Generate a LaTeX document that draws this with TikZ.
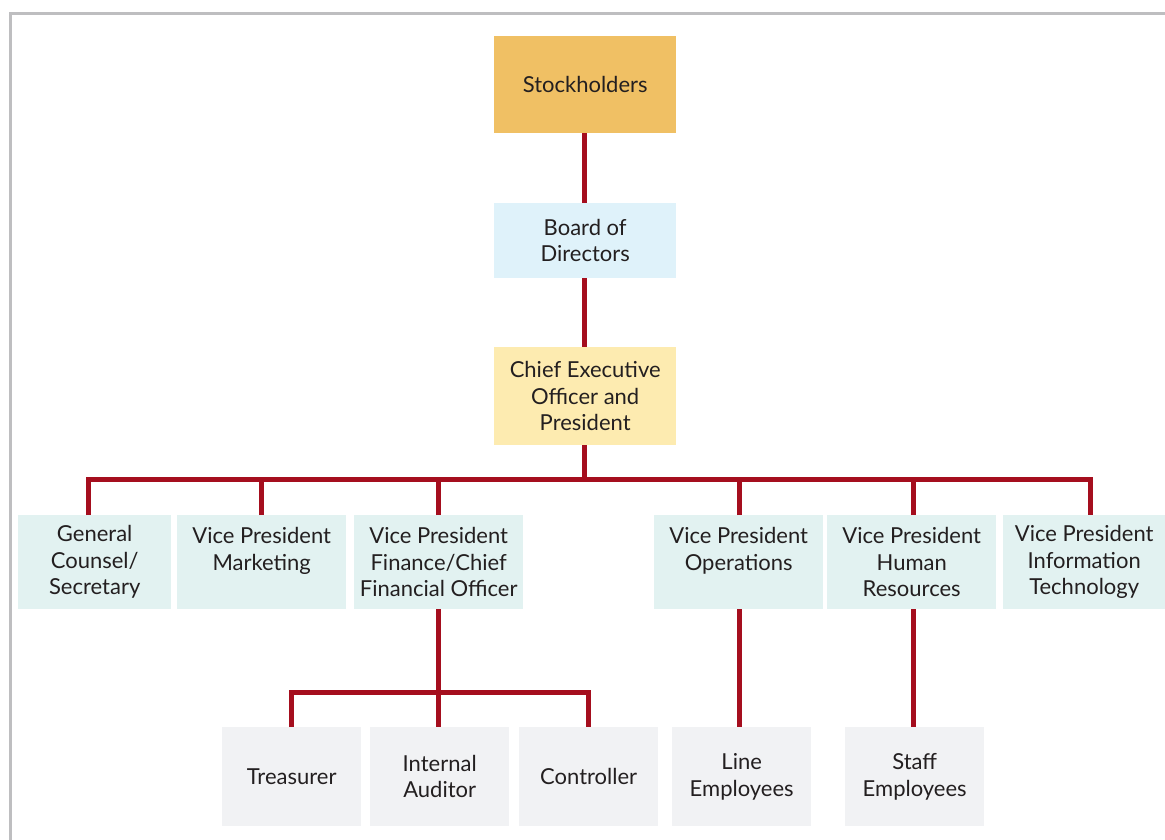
\documentclass[tikz,border=0pt]{standalone}
\usepackage{fontspec}
\setmainfont{Lato}
\usetikzlibrary{positioning}
\definecolor{cstock}{RGB}{240,192,100}
\definecolor{cboard}{RGB}{223,242,250}
\definecolor{cceo}{RGB}{253,235,176}
\definecolor{cvp}{RGB}{226,242,241}
\definecolor{cstaff}{RGB}{241,242,244}
\definecolor{clink}{RGB}{165,14,30}
\definecolor{cframe}{RGB}{190,190,192}
\definecolor{ctext}{RGB}{35,31,32}

\begin{document}
\begin{tikzpicture}[x=1pt,y=-1pt,line join=miter]
\tikzset{
  box/.style={anchor=north west,inner sep=0pt,align=center,text=ctext,
    font=\fontsize{22}{26.5}\selectfont},
  topbox/.style={box,fill=#1,minimum width=182pt,minimum height=97pt},
  vpbox/.style={box,fill=cvp,minimum height=94pt},
  lowbox/.style={box,fill=cstaff,minimum width=139pt,minimum height=99pt},
  link/.style={draw=clink,line width=5pt}
}
\useasboundingbox (0,0) rectangle (1165,840);
% ---------- frame ----------
\draw[cframe,line width=2.5pt] (10.5,840) -- (10.5,13.5) -- (1165,13.5);
% ---------- top of the chart ----------
\node[topbox=cstock] (stock) at (494,36) {Stockholders};
\node[topbox=cboard,minimum height=75pt] (board) at (494,203) {Board of\\Directors};
\node[topbox=cceo,minimum height=98pt] (ceo) at (494,347) {Chief Executive\\Officer and\\President};
% ---------- vice presidents ----------
\node[vpbox,minimum width=153pt] (counsel) at (18,515) {General\\Counsel/\\Secretary};
\node[vpbox,minimum width=169pt] (mkt) at (177,515) {Vice President\\Marketing\\\mbox{}};
\node[vpbox,minimum width=169pt] (fin) at (354,515) {Vice President\\Finance/Chief\\Financial Officer};
\node[vpbox,minimum width=169pt] (ops) at (654,515) {Vice President\\Operations\\\mbox{}};
\node[vpbox,minimum width=169pt] (hr) at (827,515) {Vice President\\Human\\Resources};
\node[vpbox,minimum width=162pt] (it) at (1003,515) {Vice President\\Information\\Technology};
% ---------- lower level ----------
\node[lowbox] (treas) at (222,727) {Treasurer};
\node[lowbox] (audit) at (370,727) {Internal\\Auditor};
\node[lowbox] (ctrl) at (519,727) {Controller};
\node[lowbox] (line) at (672,727) {Line\\Employees};
\node[lowbox] (staff) at (845,727) {Staff\\Employees};
% ---------- connectors ----------
\coordinate (bus) at (584,479);
\coordinate (finbus) at (439,692);
\draw[link] (stock.south -| bus) -- (board.north -| bus);
\draw[link] (board.south -| bus) -- (ceo.north -| bus);
\draw[link] (ceo.south -| bus) -- (bus);
\draw[link] ([xshift=-6.5pt]counsel.north) |- (bus) -| ([xshift=6pt]it.north);
\draw[link] (mkt.north) -- (mkt.north |- bus);
\draw[link] (fin.north) -- (fin.north |- bus);
\draw[link] ([xshift=1pt]ops.north) -- ([xshift=1pt]ops.north |- bus);
\draw[link] ([xshift=1.5pt]hr.north) -- ([xshift=1.5pt]hr.north |- bus);
\draw[link] (fin.south) -- (fin.south |- audit.north);
\draw[link] (treas.north) |- (finbus) -| ([xshift=-0.5pt]ctrl.north);
\draw[link] ([xshift=1pt]ops.south) -- ([xshift=1pt]ops.south |- line.north);
\draw[link] ([xshift=1.5pt]hr.south) -- ([xshift=1.5pt]hr.south |- staff.north);
\end{tikzpicture}
\end{document}
